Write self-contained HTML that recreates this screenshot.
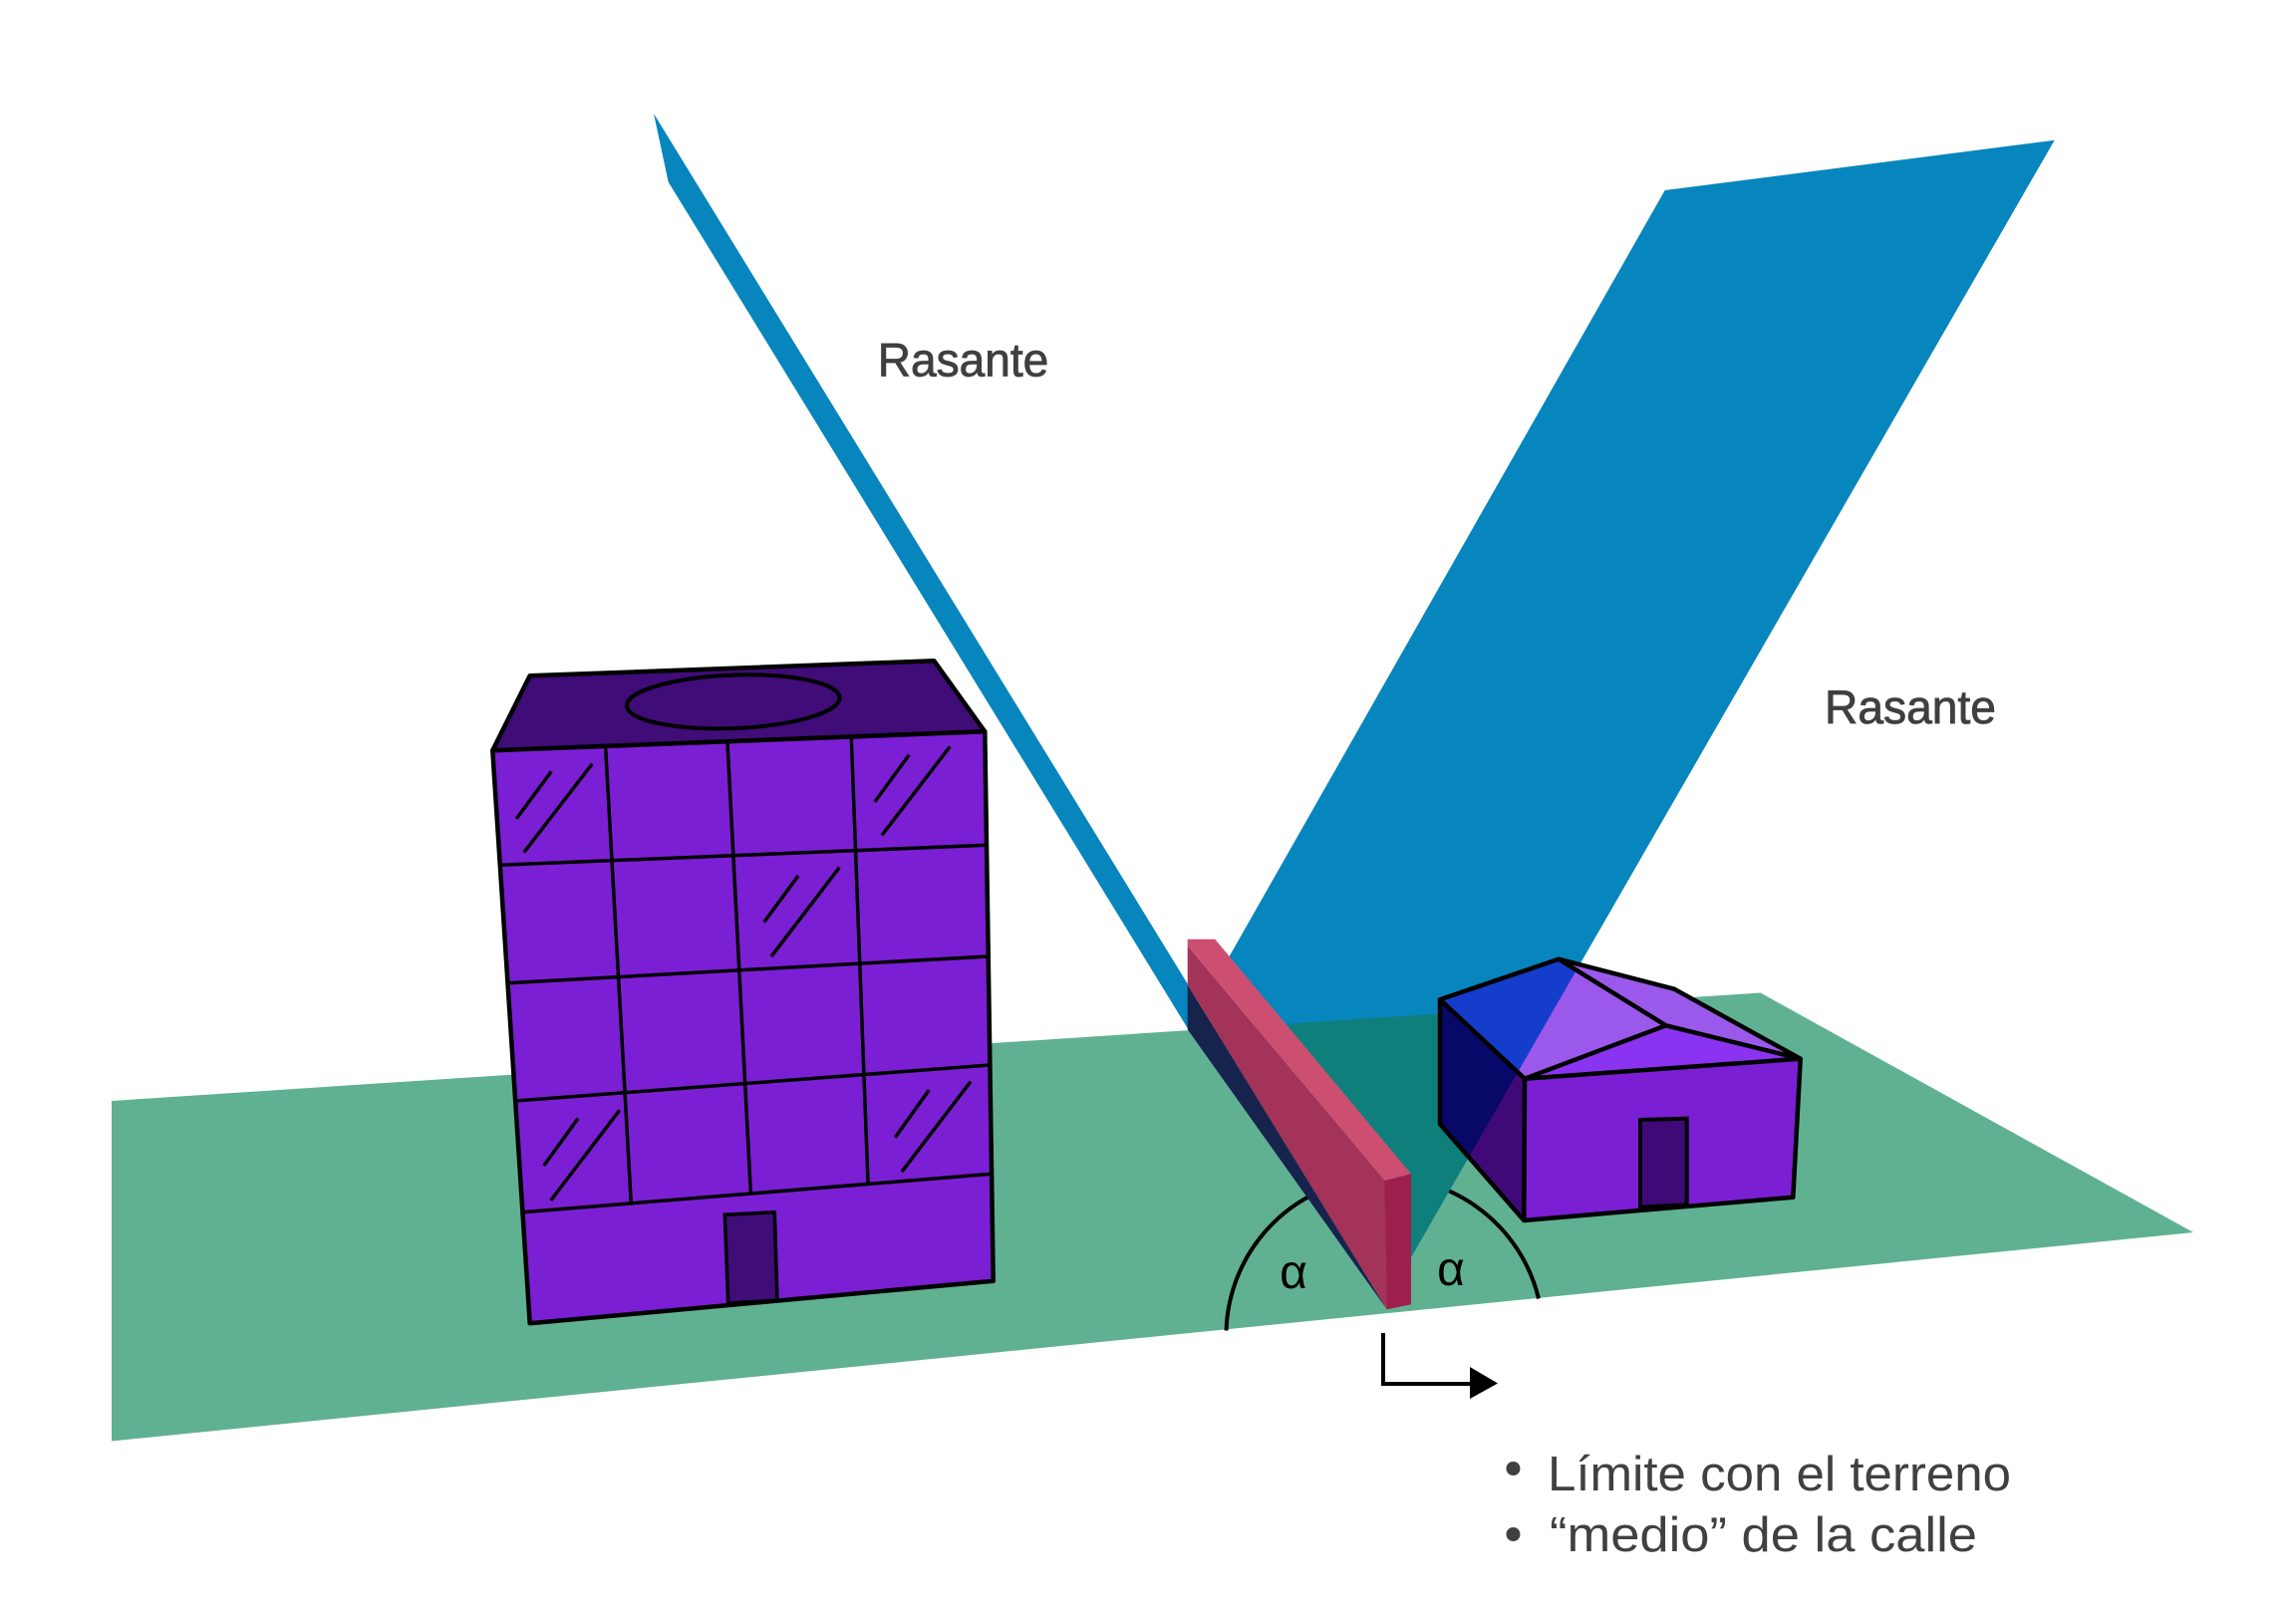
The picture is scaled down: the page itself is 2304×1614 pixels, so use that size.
<!DOCTYPE html>
<html>
<head>
<meta charset="utf-8">
<style>
  html, body { margin: 0; padding: 0; background: #ffffff; }
  svg { display: block; }
</style>
</head>
<body>
<svg xmlns="http://www.w3.org/2000/svg" width="2304" height="1614" viewBox="0 0 2304 1614">
  <defs>
    <clipPath id="greenClip">
      <polygon points="112,1105 1766.5,996.5 2201,1237 112,1446.5"/>
    </clipPath>
    <clipPath id="planeClip">
      <polygon points="1670.7,191 2061.7,140.7 1416,1262 1233,961"/>
    </clipPath>
  </defs>

  <rect x="0" y="0" width="2304" height="1614" fill="#ffffff"/>

  <!-- ground plane -->
  <polygon points="112,1105 1766.5,996.5 2201,1237 112,1446.5" fill="#60b191"/>

  <!-- angle arcs (under plane and wall) -->
  <path d="M1230.5,1335.5 A159,159 0 0 1 1544,1303.5" fill="none" stroke="#000" stroke-width="4"/>

  <!-- left rasante stripe -->
  <polygon points="656,114 1192,988 1192,1032.5 670.7,182.7" fill="#0785bd"/>

  <!-- right rasante plane -->
  <polygon points="1670.7,191 2061.7,140.7 1416,1262 1233,961" fill="#0785bd"/>
  <polygon points="1670.7,191 2061.7,140.7 1416,1262 1233,961" fill="#0e7f7b" clip-path="url(#greenClip)"/>

  <!-- pink wall -->
  <polygon points="1191.7,988.3 1391.7,1314.3 1191.7,1033.3" fill="#16234d"/>
  <polygon points="1191.7,949.3 1389.3,1185 1391.7,1314.3 1191.7,988.3" fill="#a33358"/>
  <polygon points="1191.7,942.7 1219.3,942.7 1416,1178.3 1389.3,1185 1191.7,949.3" fill="#cc4f72"/>
  <polygon points="1389.3,1185 1416,1178.3 1416,1309.3 1391.7,1314.3" fill="#9d1f4e"/>

  <!-- big building -->
  <polygon points="531.7,678.3 937.3,663.3 988.3,734.3 494.3,753.3" fill="#3f0c78" stroke="#000" stroke-width="4.5" stroke-linejoin="round"/>
  <ellipse cx="735.8" cy="704.3" rx="106.8" ry="26.7" transform="rotate(-2.2 735.8 704.3)" fill="none" stroke="#000" stroke-width="4"/>
  <polygon points="494.3,753.3 988.3,734.3 996.7,1285.7 531.7,1328.3" fill="#7b1fd4" stroke="#000" stroke-width="4.5" stroke-linejoin="round"/>
  <g stroke="#000" stroke-width="3.5" fill="none" stroke-linecap="butt">
    <line x1="501.8" y1="868.3" x2="990" y2="848.3"/>
    <line x1="509.5" y1="986.7" x2="991.7" y2="960"/>
    <line x1="517.2" y1="1105" x2="993.4" y2="1069"/>
    <line x1="524.4" y1="1216.7" x2="995.1" y2="1178.3"/>
    <line x1="607.7" y1="751" x2="633.3" y2="1208.3"/>
    <line x1="730" y1="745" x2="753.3" y2="1196.7"/>
    <line x1="854.3" y1="740" x2="871" y2="1187.7"/>
    <!-- reflections -->
    <line x1="518.3" y1="821.7" x2="553.3" y2="774.3"/>
    <line x1="525.7" y1="855.7" x2="594.3" y2="766.7"/>
    <line x1="877.7" y1="805" x2="912.3" y2="757.7"/>
    <line x1="885" y1="838.3" x2="953.3" y2="749.3"/>
    <line x1="766.7" y1="925.7" x2="801" y2="879"/>
    <line x1="774" y1="960" x2="842.3" y2="870.7"/>
    <line x1="545.7" y1="1170" x2="580" y2="1122.7"/>
    <line x1="552.7" y1="1205" x2="621.7" y2="1114.3"/>
    <line x1="898.3" y1="1141.7" x2="932.3" y2="1094"/>
    <line x1="905" y1="1176" x2="974" y2="1085.7"/>
  </g>
  <polygon points="727.3,1219.3 777.3,1216.7 780,1305 730.7,1308.3" fill="#3f0c78" stroke="#000" stroke-width="3.5"/>

  <!-- house -->
  <g>
    <polygon points="1445,1003.3 1530,1082.7 1529.3,1225 1445,1128.3" fill="#3f0a78"/>
    <polygon points="1445,1003.3 1564,962.7 1671.7,1029.3 1530,1082.7" fill="#9b59eb"/>
    <polygon points="1564,962.7 1680,992.7 1806.7,1062.7 1671.7,1029.3" fill="#9b59eb"/>
    <polygon points="1530,1082.7 1671.7,1029.3 1806.7,1062.7" fill="#8a33f0"/>
    <polygon points="1530,1082.7 1806.7,1062.7 1799.3,1201.7 1529.3,1225" fill="#7b1fd4"/>
    <g clip-path="url(#planeClip)">
      <polygon points="1445,1003.3 1530,1082.7 1529.3,1225 1445,1128.3" fill="#080868"/>
      <polygon points="1445,1003.3 1564,962.7 1671.7,1029.3 1530,1082.7" fill="#143dcb"/>
    </g>
    <g fill="none" stroke="#000" stroke-width="4.5" stroke-linejoin="round">
      <polygon points="1445,1003.3 1564,962.7 1680,992.7 1806.7,1062.7 1799.3,1201.7 1529.3,1225 1445,1128.3"/>
      <polyline points="1445,1003.3 1530,1082.7 1806.7,1062.7"/>
      <line x1="1530" y1="1082.7" x2="1529.3" y2="1225"/>
      <polyline points="1564,962.7 1671.7,1029.3 1530,1082.7"/>
      <line x1="1671.7" y1="1029.3" x2="1806.7" y2="1062.7"/>
    </g>
    <polygon points="1646,1124 1692.7,1122.7 1692.7,1209.3 1646,1211.7" fill="#3f0a78" stroke="#000" stroke-width="4"/>
  </g>

  <!-- alpha labels -->
  <text x="1298" y="1293" font-family="'Liberation Sans', 'DejaVu Sans', sans-serif" font-size="48" text-anchor="middle" fill="#000">α</text>
  <text x="1456" y="1290" font-family="'Liberation Sans', 'DejaVu Sans', sans-serif" font-size="48" text-anchor="middle" fill="#000">α</text>

  <!-- arrow -->
  <path d="M1388,1338 V1389 H1478" fill="none" stroke="#000" stroke-width="4"/>
  <polygon points="1475,1372 1503,1388.5 1475,1404" fill="#000"/>

  <!-- Rasante labels -->
  <text x="880.7" y="377.3" font-family="'Liberation Sans', sans-serif" font-size="47" fill="#3f3f3f" stroke="#3f3f3f" stroke-width="0.8" textLength="171.6" lengthAdjust="spacingAndGlyphs">Rasante</text>
  <text x="1831" y="726" font-family="'Liberation Sans', sans-serif" font-size="47" fill="#3f3f3f" stroke="#3f3f3f" stroke-width="0.8" textLength="172" lengthAdjust="spacingAndGlyphs">Rasante</text>

  <!-- bullet text -->
  <circle cx="1518.5" cy="1474" r="7" fill="#404040"/>
  <circle cx="1518.5" cy="1540" r="7" fill="#404040"/>
  <text x="1553" y="1496" font-family="'Liberation Sans', sans-serif" font-size="49" fill="#404040" textLength="465" lengthAdjust="spacingAndGlyphs">Límite con el terreno</text>
  <text x="1555" y="1557" font-family="'Liberation Sans', sans-serif" font-size="49" fill="#404040" textLength="429" lengthAdjust="spacingAndGlyphs">“medio” de la calle</text>
</svg>
</body>
</html>
